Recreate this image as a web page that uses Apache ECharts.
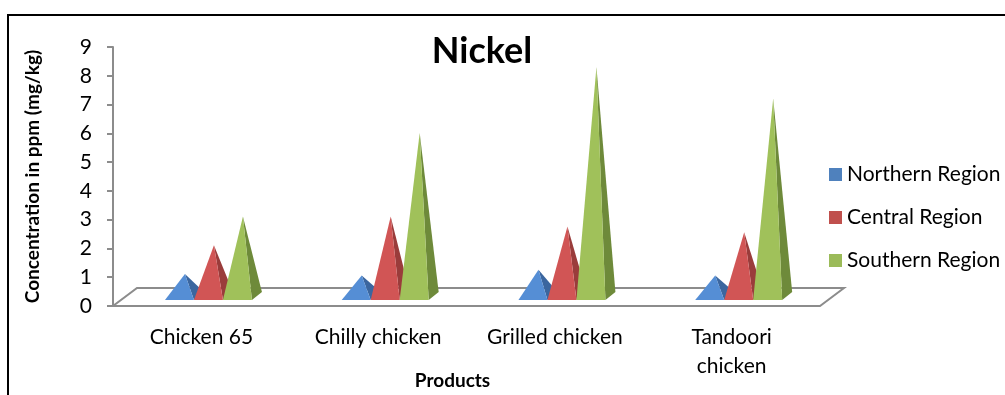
<!DOCTYPE html>
<html>
<head>
<meta charset="utf-8">
<script src="https://cdn.jsdelivr.net/npm/echarts@6/dist/echarts.min.js"></script>
<style>html,body{margin:0;padding:0;background:#fff}#c{width:1005px;height:395px}</style>
</head>
<body>
<div id="c"></div>
<script>
const categories = ['Chicken 65', 'Chilly chicken', 'Grilled chicken', 'Tandoori chicken'];
const seriesNames = ['Northern Region', 'Central Region', 'Southern Region'];
const northern = [0.9, 0.85, 1.05, 0.85];
const central = [1.9, 2.9, 2.55, 2.35];
const southern = [2.9, 5.8, 8.1, 7.0];
const yTicks = [0, 1, 2, 3, 4, 5, 6, 7, 8, 9];

const FONT = 'Lato';
const baseColors = ['#4F81BD', '#C0504D', '#9BBB59'];
const frontColors = ['#558ED5', '#D15555', '#A0C15A'];
const sideColors = ['#3B669F', '#9A3C3B', '#6E8A3A'];

function pyramidRender(si) {
  return function (params, api) {
    const idx = api.value(0), val = api.value(1);
    const base = api.coord([idx, 0]);
    const top = api.coord([idx, val]);
    const band = api.size([1, 0])[0];
    const w = band * 0.164;
    const x0 = base[0] + band * 0.04 - 1.5 * w + si * w;
    const by = base[1] - 6;
    const ax = x0 + w / 2 + 5.5;
    const ay = top[1] - 6;
    return {
      type: 'group',
      children: [
        { type: 'polygon', shape: { points: [[x0 + w, by], [x0 + w + 10, by - 8], [ax, ay]] }, style: { fill: sideColors[si] } },
        { type: 'polygon', shape: { points: [[x0, by], [x0 + w, by], [ax, ay]] }, style: { fill: frontColors[si] } }
      ]
    };
  };
}

function floorRender(params, api) {
  const cs = params.coordSys;
  const yb = cs.y + cs.height;
  return {
    type: 'polygon',
    shape: { points: [[cs.x, yb], [cs.x + cs.width, yb], [cs.x + cs.width + 24, yb - 18], [cs.x + 24, yb - 18]] },
    style: { fill: 'none', stroke: '#8C8C8C', lineWidth: 2 }
  };
}

const values = [northern, central, southern];
const series = [{
  type: 'custom', name: 'floor', renderItem: floorRender, data: [[0, 0]], silent: true, z: 1
}];
values.forEach((arr, si) => {
  series.push({
    type: 'custom',
    name: seriesNames[si],
    itemStyle: { color: baseColors[si] },
    renderItem: pyramidRender(si),
    encode: { x: 0, y: 1 },
    data: arr.map((v, i) => [i, v]),
    z: 2 + si
  });
});

const chart = echarts.init(document.getElementById('c'), null, { renderer: 'canvas' });
chart.setOption({
  animation: false,
  textStyle: { fontFamily: FONT },
  title: {
    text: 'Nickel', left: 477, top: 28, textAlign: 'center',
    textStyle: { fontFamily: FONT, fontWeight: 'bold', fontSize: 36, color: '#000' }
  },
  legend: {
    data: seriesNames, orient: 'vertical', left: 829, top: 164, padding: 0,
    icon: 'rect', itemWidth: 13, itemHeight: 13, itemGap: 22,
    textStyle: { fontFamily: FONT, fontSize: 21, color: '#000' }
  },
  grid: { left: 113, right: 185, top: 47, bottom: 89, outerBoundsMode: 'none', containLabel: false },
  xAxis: {
    type: 'category', data: categories,
    name: 'Products', nameLocation: 'middle', nameGap: 65, nameMoveOverlap: false,
    nameTextStyle: { fontFamily: FONT, fontWeight: 'bold', fontSize: 19, color: '#000', padding: [0, 28, 0, 0] },
    axisLine: { show: false }, axisTick: { show: false },
    axisLabel: {
      interval: 0, margin: 17, fontSize: 21, lineHeight: 29, color: '#000', fontFamily: FONT,
      formatter: v => v === 'Tandoori chicken' ? 'Tandoori\nchicken' : v
    }
  },
  yAxis: {
    type: 'value', min: yTicks[0], max: yTicks[yTicks.length - 1], interval: 1,
    name: 'Concentration in ppm (mg/kg)', nameLocation: 'middle', nameGap: 59, nameMoveOverlap: false,
    nameTextStyle: { fontFamily: FONT, fontWeight: 'bold', fontSize: 19, color: '#000', padding: [0, 0, 12, 0] },
    axisLine: { show: true, lineStyle: { color: '#8C8C8C', width: 2 } },
    axisTick: { show: true, length: 6, lineStyle: { color: '#8C8C8C', width: 2 } },
    axisLabel: { margin: 21, fontSize: 21, color: '#000', fontFamily: FONT },
    splitLine: { show: false }
  },
  graphic: [
    { type: 'line', shape: { x1: 8, y1: 15, x2: 1005, y2: 15 }, style: { stroke: '#000', lineWidth: 2 } },
    { type: 'line', shape: { x1: 8, y1: 14, x2: 8, y2: 395 }, style: { stroke: '#000', lineWidth: 2 } }
  ],
  series: series
});
</script>
</body>
</html>
